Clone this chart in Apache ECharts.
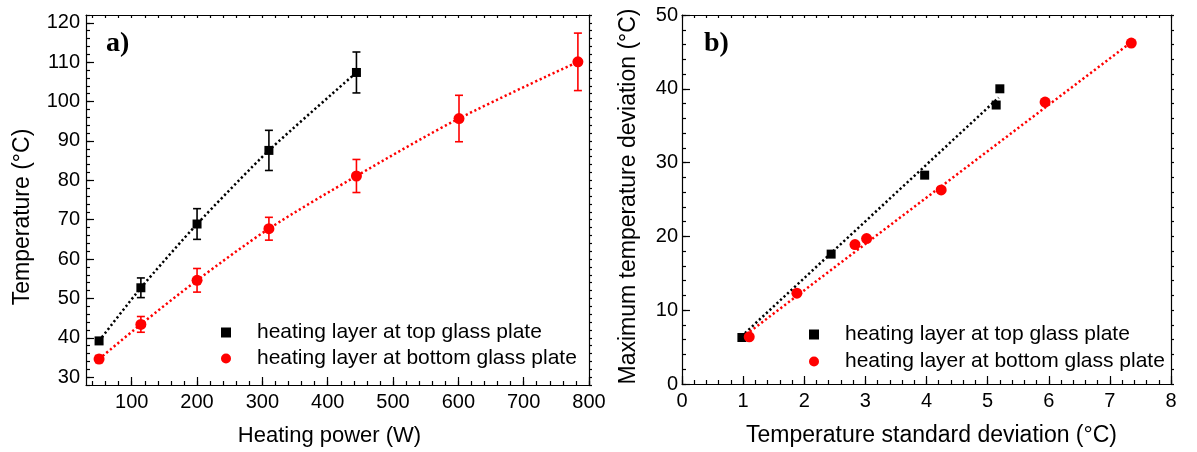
<!DOCTYPE html>
<html>
<head>
<meta charset="utf-8">
<script src="https://cdn.jsdelivr.net/npm/echarts@6/dist/echarts.min.js"></script>
<style>
  html, body { margin: 0; padding: 0; background: #fff; }
  #main { width: 1197px; height: 452px; }
</style>
</head>
<body>
<div id="main"></div>
<script>
// a) heating power vs temperature
var powerTop = [50, 114, 200, 310, 444];
var tempTop = [39.2, 52.7, 68.9, 87.6, 107.4];
var errTop = [0.8, 2.5, 3.9, 5.1, 5.2];
var powerBottom = [50, 114, 200, 310, 444, 601, 783];
var tempBottom = [34.6, 43.4, 54.6, 67.7, 81.1, 95.7, 110.1];
var errBottom = [0.9, 2.0, 3.0, 2.9, 4.2, 5.9, 7.3];

// b) standard deviation vs max deviation
var sdTop = [0.98, 2.44, 3.97, 5.14, 5.20];
var devTop = [6.3, 17.6, 28.3, 37.8, 40.0];
var sdBottom = [1.10, 1.88, 2.83, 3.02, 4.24, 5.94, 7.35];
var devBottom = [6.4, 12.3, 18.9, 19.7, 26.3, 38.2, 46.2];
var fitTopX = [1.03, 5.18];
var fitTopY = [6.9, 38.8];
var fitBottomX = [1.11, 7.30];
var fitBottomY = [7.1, 46.0];

// tick labels
var ticksPower = [100, 200, 300, 400, 500, 600, 700, 800];
var ticksTemp = [30, 40, 50, 60, 70, 80, 90, 100, 110, 120];
var ticksSd = [0, 1, 2, 3, 4, 5, 6, 7, 8];
var ticksDev = [0, 10, 20, 30, 40, 50];

var nameTop = 'heating layer at top glass plate';
var nameBottom = 'heating layer at bottom glass plate';
var FONT = "'Liberation Sans', Arial, sans-serif";

function zip(a, b) {
  return a.map(function (v, i) { return [v, b[i]]; });
}

function steps(min, max, step) {
  var out = [];
  for (var v = Math.ceil(min / step) * step; v <= max + 1e-9; v += step) {
    out.push(+v.toFixed(6));
  }
  return out;
}

// one axis on one side of a grid
function side(grid, pos, min, max, ticks, opt) {
  return {
    type: 'value',
    gridIndex: grid,
    position: pos,
    min: min,
    max: max,
    splitLine: { show: false },
    axisLine: { show: opt.line, onZero: false, lineStyle: { color: '#000', width: 1.2 } },
    axisTick: {
      show: true,
      customValues: ticks,
      inside: opt.inside,
      length: opt.len,
      lineStyle: { color: '#000', width: 1.2 }
    },
    axisLabel: opt.label ? {
      show: true,
      customValues: ticks,
      color: '#000',
      fontFamily: FONT,
      fontSize: 20,
      margin: opt.margin
    } : { show: false },
    name: opt.name || '',
    nameLocation: 'middle',
    nameGap: opt.nameGap,
    nameTextStyle: {
      color: '#000',
      fontFamily: FONT,
      fontSize: opt.nameSize || 23,
      padding: opt.namePad || 0
    }
  };
}

var xAxes = [
  // grid 0
  side(0, 'bottom', 30, 800, ticksPower, { line: true, inside: true, len: 8, label: true, margin: 7, name: 'Heating power (W)', nameGap: 40, nameSize: 22, namePad: [0, 16, 0, 0] }),
  side(0, 'bottom', 30, 800, steps(30, 800, 20), { line: false, inside: true, len: 4 }),
  side(0, 'top', 30, 800, steps(30, 800, 20), { line: true, inside: true, len: 3 }),
  // grid 1
  side(1, 'bottom', 0, 8, ticksSd, { line: true, inside: true, len: 8, label: true, margin: 7, name: 'Temperature standard deviation (°C)', nameGap: 40, namePad: [0, 0, 0, 10] }),
  side(1, 'bottom', 0, 8, steps(0, 8, 0.2), { line: false, inside: true, len: 4 }),
  side(1, 'top', 0, 8, steps(0, 8, 0.2), { line: true, inside: true, len: 3 })
];

var yAxes = [
  side(0, 'left', 28, 122, ticksTemp, { line: true, inside: true, len: 8, label: true, margin: 6, name: 'Temperature (°C)', nameGap: 52, namePad: [0, 34, 0, 0] }),
  side(0, 'left', 28, 122, steps(28, 122, 2), { line: false, inside: true, len: 4 }),
  side(0, 'right', 28, 122, steps(28, 122, 2), { line: true, inside: false, len: 3 }),
  side(1, 'left', 0, 50, ticksDev, { line: true, inside: true, len: 8, label: true, margin: 4, name: 'Maximum temperature deviation (°C)', nameGap: 42, namePad: [0, 0, 0, 6] }),
  side(1, 'left', 0, 50, steps(0, 50, 2), { line: false, inside: true, len: 4 }),
  side(1, 'right', 0, 50, steps(0, 50, 2), { line: true, inside: false, len: 3 })
];

function errorBars(name, xs, ys, es, color, xi, yi) {
  return {
    name: name,
    type: 'custom',
    xAxisIndex: xi,
    yAxisIndex: yi,
    silent: true,
    z: 3,
    data: xs.map(function (x, i) { return [x, ys[i] - es[i], ys[i] + es[i]]; }),
    renderItem: function (params, api) {
      var lo = api.coord([api.value(0), api.value(1)]);
      var hi = api.coord([api.value(0), api.value(2)]);
      var w = 4;
      var st = { stroke: color, lineWidth: 1.6 };
      return {
        type: 'group',
        children: [
          { type: 'line', shape: { x1: lo[0], y1: lo[1], x2: hi[0], y2: hi[1] }, style: st },
          { type: 'line', shape: { x1: lo[0] - w, y1: lo[1], x2: lo[0] + w, y2: lo[1] }, style: st },
          { type: 'line', shape: { x1: hi[0] - w, y1: hi[1], x2: hi[0] + w, y2: hi[1] }, style: st }
        ]
      };
    }
  };
}

function dotted(name, data, color, xi, yi, smooth) {
  return {
    name: name,
    type: 'line',
    xAxisIndex: xi,
    yAxisIndex: yi,
    data: data,
    smooth: smooth,
    symbol: 'none',
    silent: true,
    z: 2,
    lineStyle: { color: color, width: 2.5, type: [2.2, 2.6] }
  };
}

function points(name, data, symbol, size, color, xi, yi) {
  return {
    name: name,
    type: 'scatter',
    xAxisIndex: xi,
    yAxisIndex: yi,
    data: data,
    symbol: symbol,
    symbolSize: size,
    itemStyle: { color: color, opacity: 1 },
    z: 4
  };
}

function legendAt(left, top, gap) {
  return {
    left: left,
    top: top,
    orient: 'vertical',
    padding: 0,
    itemGap: gap,
    itemWidth: 10,
    itemHeight: 10,
    selectedMode: false,
    textStyle: { color: '#000', fontFamily: FONT, fontSize: 21, padding: [0, 0, 0, 21] },
    data: [
      { name: nameTop, icon: 'rect' },
      { name: nameBottom, icon: 'circle' }
    ]
  };
}

var chart = echarts.init(document.getElementById('main'));
chart.setOption({
  animation: false,
  backgroundColor: '#fff',
  grid: [
    { left: 86, top: 15, width: 503, height: 370, outerBoundsMode: 'none' },
    { left: 682, top: 15, width: 489, height: 369, outerBoundsMode: 'none' }
  ],
  title: [
    { text: 'a)', left: 106, top: 30, padding: 0, textStyle: { fontFamily: "'Liberation Serif', serif", fontWeight: 'bold', fontSize: 28, color: '#000' } },
    { text: 'b)', left: 704, top: 30, padding: 0, textStyle: { fontFamily: "'Liberation Serif', serif", fontWeight: 'bold', fontSize: 28, color: '#000' } }
  ],
  legend: [legendAt(221, 322, 5), legendAt(809, 324, 6)],
  xAxis: xAxes,
  yAxis: yAxes,
  series: [
    dotted('fit a top', zip(powerTop, tempTop), '#000', 0, 0, 0.2),
    dotted('fit a bottom', zip(powerBottom, tempBottom), '#ff0000', 0, 0, 0.3),
    errorBars('err top', powerTop, tempTop, errTop, '#000', 0, 0),
    errorBars('err bottom', powerBottom, tempBottom, errBottom, '#ff0000', 0, 0),
    points(nameTop, zip(powerTop, tempTop), 'rect', 9, '#000', 0, 0),
    points(nameBottom, zip(powerBottom, tempBottom), 'circle', 11, '#ff0000', 0, 0),

    dotted('fit b top', zip(fitTopX, fitTopY), '#000', 3, 3, false),
    dotted('fit b bottom', zip(fitBottomX, fitBottomY), '#ff0000', 3, 3, false),
    points(nameTop, zip(sdTop, devTop), 'rect', 9, '#000', 3, 3),
    points(nameBottom, zip(sdBottom, devBottom), 'circle', 11, '#ff0000', 3, 3)
  ]
});
</script>
</body>
</html>
